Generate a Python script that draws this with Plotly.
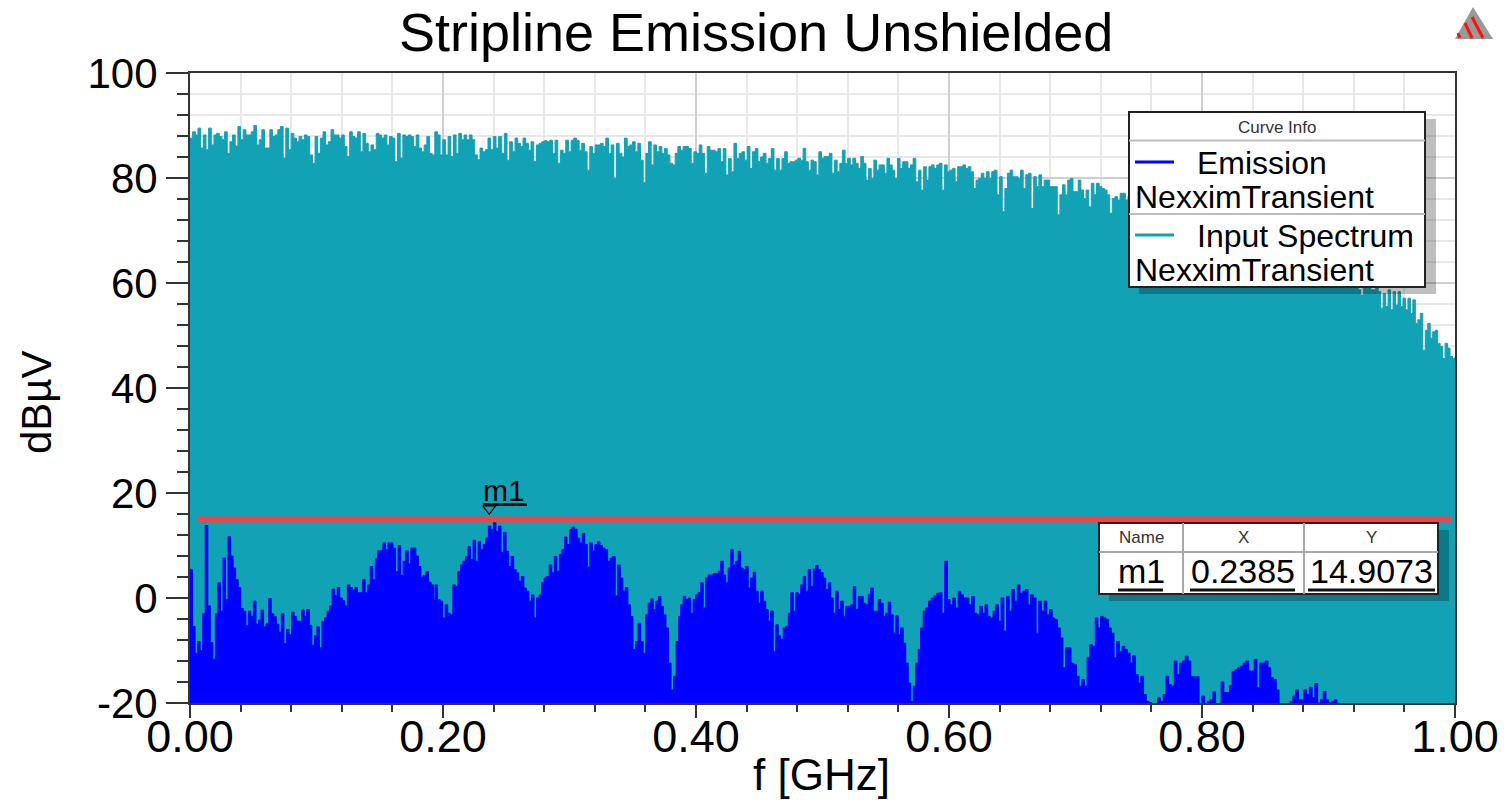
import numpy as np
import plotly.graph_objects as go

# ---------- chart values (dBuV per frequency stretch, GHz) ----------
input_a_range = (0.0, 0.244)
input_a = [87.6,88.8,88.2,89.5,85.7,88.2,85.4,89.5,86.3,88.2,88.5,87.9,87.3,88.8,84.7,86.9,88.2,86.1,89.8,87.3,89.2,88.2,88.2,88.8,90,86.3,87.3,89.2,85.7,85.7,89.2,87.9,88.2,89.2,89.8,83.8,89.5,85.4,88.5,87.6,86.9,87.9,87.3,88.2,87.9,84.4,82.8,87.9,84.7,87.6,88.8,86.3,86.9,89.2,88.2,88.2,87.6,88.2,86,84.1,88.8,87.9,87.6,88.8,85,88.5,86.6,85,86.3,85.4,88.5,88.2,87.6,88.2,86.3,87.9,87.6,83.1,88.5,83.8,88.2,87.9,88.2,87.9,86,88.2,85.7,85,86.3,87.9,84.7,84.4,88.8,88.2,84.4,87.3,84.4,87.9,84.1,88.2,84.7,88.5,87.3,88.2,87.3,88.2,87.3,84.4,83.5,85.7,85,85.4,87.6,85.4,87.9,85.7,87.9]
input_b_range = (0.2464, 0.4743)
input_b = [84.7,88.5,83.4,86.9,85,87.6,86.6,86,87.6,86.6,85.3,86.9,83.1,86.3,86.6,86.9,87.1,86.9,87.2,84.7,87.2,82.8,85.3,84.7,87.2,85,87.2,87.6,87.2,85.3,86.6,85,81.5,86,84.7,86.3,86.3,86.6,86,87.6,84.7,86.3,79.9,86.6,84.7,84,87.6,86,86.3,86.9,85,86.6,83.4,79.1,84.7,86.9,82.5,86.3,85,86,84.7,85.6,84.4,82.8,82.5,84.7,86,85.3,86,86,85.6,82.8,85,84.7,86.3,84.7,80.9,86,85.3,85.3,85,85.6,83.1,85.6,80.6,83.7,81.2,86.6,83.7,84.7,85,83.4,86,81.8,85,85.6,83.1,84,84.7,82.8,83.7,85.6,81.5,83.7,81.5,83.7,85,82.8,83.1]
input_c_range = (0.4764, 0.7415)
input_c = [83.1,83.4,83.75,83.4,85.65,83.1,81.5,83.4,83.1,80.6,85,83.75,84.1,84.1,84.7,80.9,83.4,81.2,82.8,85.3,82.8,83.75,82.5,83.75,82.8,81.8,84.1,82.8,79.6,81.8,79.9,83.4,81.5,82.5,82.5,80.9,83.75,82.5,81.5,79.9,83.75,81.8,83.1,83.1,81.8,82.5,83.75,79.3,81.5,77.7,82.15,79.6,82.15,82.5,81.8,82.5,82.8,77.7,82.5,81.2,81.5,81.8,79.3,82.15,82.15,82.5,81.8,82.15,81.2,78,79.6,79.9,80.9,79.9,81.2,79.9,81.2,81.5,76.8,80.25,73.6,78,80.9,81.5,80.25,80.25,79.9,81.5,78,80.6,80.9,74.2,80.25,78.35,80.6,78.35,79.6,79.6,78.35,78.35,78.35,73,76.8,78.7,76.8,79.6,79.9,77.4,77.4,79.6,77.7,76.1,77.7,74.5,79,76.8,79,78.35,78,77.7,76.8,73.3,76.1,76.45,75.8,77.1,77.1,75.8,76.45]
input_hidden_range = (0.745, 0.92)
input_hidden = [76,75.5,75,74.5,74,73.5,72.5,72,71.5,70.5,70,69,68,67,66,65,63.5,62,60.5]
input_e_range = (0.9236, 1.0)
input_e = [58.7,57.7,59.3,59,60,58.7,58.7,59.3,58.35,55.2,58,55.5,58.7,54.9,58.35,55.8,58.35,55.5,57.1,54.9,57.1,54.2,56.8,52.3,53,54.2,47.2,51,52.3,49.5,50.7,51,48.5,47.9,45.6,48.5,47.6,46,45.6,46]

emission_a_range = (0.0, 0.1926)
emission_a = [5.4,-5.4,-10.5,-8.3,-10,-3,13.8,-1.5,-8.5,-11.7,-3,2.9,-2.5,7.6,-0.3,11.7,8,5.7,3.5,2,-2,-2.5,-5.3,-2.5,-3.5,-0.6,-5,-4.2,-2.3,-5.5,-4.9,-0.1,-3,-3.5,-5,-6.5,-3,-8.7,-6,-7,-2.7,-3.5,-4.4,-4.5,-2.3,-3.5,-2.2,-5.2,-9,-7.2,-5.5,-9.5,-4.5,-3.8,-2.5,-1.5,1.7,0.5,2,0,-0.5,-1.5,2.5,2,1.5,2,1,1,3.5,1,2.5,6,3.5,7.5,9,9,10.5,9.2,10.5,10.5,9.5,5,10,4.3,7,9,6.5,9.5,9.5,8,6,4,4.3,5,3,2.5,-0.5]
emission_b_range = (0.1937, 0.3863)
emission_b = [2.5,-0.3,-0.6,-3.8,-1.3,-2.9,-3.2,2.5,2.2,5,6.3,7,7.9,9.8,7.3,11,7,10.7,9.2,10.2,11.4,13.7,13,14.4,12.7,13.7,8.7,12.5,8.9,6,7.9,5.4,4.8,3.2,4.1,1.9,1.3,-0.6,0.6,-3.8,0,0.6,2.9,3.8,4.1,6.3,4.8,7.9,5.1,8.3,9.2,11.6,10.2,13,13.5,13.1,11.4,10.5,12.3,10.2,5.9,10.5,8.9,10.2,10.7,10,9.5,9.2,7,7.6,7.9,0.4,6.3,3.8,1.3,2,-1.3,-3.5,-9.8,-8.3,-4.8,-8.3,-10.5,-3.2,-1,-0.2,-2.2,-0.6,0.3,-1.6,-3.2,-5.7,-12.4,-17.5,-14.9,-8.3,-3.5]
emission_c_range = (0.3879, 0.5757)
emission_c = [-1.3,0.3,-0.3,0,-2.9,-0.3,0.6,1,2.9,-1.9,3.8,4.4,4.4,4.6,4.6,5.1,7,4.4,2.9,5.7,9.2,6.3,7,8.9,5.7,5.4,6,1.9,3.8,4.9,1.3,-1,1.3,-0.6,-2.2,-4.4,-2.5,-10.2,-5.1,-7.2,-7.9,-5.7,-5.4,-2.9,1,-2.5,1,0.7,2.5,4.1,1.3,5.4,2.2,5.5,6.2,5.4,4.8,3.8,1.6,2.9,0,-2.9,1.3,-2.2,-0.6,-3.5,-1.6,-1.6,-1.3,2.2,-2.2,0.3,0.3,-1,-1.3,0.6,1.9,-2.5,-2.5,-0.3,-1,-3.5,-2.9,-0.8,-3.2,-6.7,-3.4,-7,-5.7,-8.6,-12.4,-16.2,-19.7,-16.8,-12.4,-9.8]
emission_d_range = (0.5775, 0.7602)
emission_d = [-5.7,-2.5,-1.9,-0.6,0,0.4,0.9,1,-2.9,7,-0.3,-1.3,0,-1.9,1.3,0.6,0,0,-1.3,0.3,-2.9,-3.2,-1.6,-2.9,-1.3,-3.5,-3.8,-2.5,-1.3,-4.4,0,-6.3,0.3,-2.5,1.6,-0.6,2.5,0.9,1.3,1.6,-1.3,0.6,0,-6.7,-0.6,-2.5,-0.6,-3.2,-2.2,-3.8,-4.1,-5.7,-7.6,-13.3,-9.5,-9.5,-12.4,-12.7,-14.9,-16.8,-15.5,-16.8,-11.4,-8.9,-9.2,-3.8,-5.7,-3.5,-3.8,-4.1,-5.7,-6.7,-11.4,-8.3,-10.2,-9.2,-9.8,-10.5,-12.4,-11,-14.6,-16.2,-14.9,-18.4,-19.7,-19.9,-20.1]
emission_e_range = (0.7628, 0.9067)
emission_e = [-20.6,-19,-19.7,-18.4,-14.9,-16.5,-16.8,-12,-14.6,-12.4,-12,-11.1,-12,-15,-15,-15,-21,-18.7,-21,-19.7,-19.4,-17.9,-21,-21,-16,-18,-18,-16.7,-14,-13.7,-13.3,-13,-12.4,-12,-13.9,-13.9,-11.7,-17.1,-12.4,-12.4,-12,-13.3,-15.2,-15.5,-17.5,-21,-21,-21,-21,-19.7,-18.7,-17.5,-19.4,-19.4,-17.5,-18.4,-17,-19,-16.3,-20,-19.4,-17.8,-19.4,-20,-19.7,-19.4,-21]

limit_x = [0.0063, 0.9976]
limit_y = [15.0, 15.0]
m1_x_drawn = 0.2365
m1_y_drawn = 17.0
table_head = ["Name", "X", "Y"]
table_row = ["m1", "0.2385", "14.9073"]
title_text = "Stripline Emission Unshielded"
y_ticks = [-20, 0, 20, 40, 60, 80, 100]
y_labels = ["-20", "0", "20", "40", "60", "80", "100"]
x_ticks = [0.0, 0.2, 0.4, 0.6, 0.8, 1.0]
x_labels = ["0.00", "0.20", "0.40", "0.60", "0.80", "1.00"]

TEAL = "#12A2B6"
BLUE = "#0000FF"
RED = "#E5484D"
FONT = "Liberation Sans"
FLOOR = -40


def spread(rng, vals):
    return list(np.linspace(rng[0], rng[1], len(vals)))


input_x = (spread(input_a_range, input_a) + spread(input_b_range, input_b) + spread(input_c_range, input_c)
           + spread(input_hidden_range, input_hidden) + spread(input_e_range, input_e))
input_y = input_a + input_b + input_c + input_hidden + input_e
emission_x = (spread(emission_a_range, emission_a) + spread(emission_b_range, emission_b)
              + spread(emission_c_range, emission_c) + spread(emission_d_range, emission_d)
              + spread(emission_e_range, emission_e))
emission_y = emission_a + emission_b + emission_c + emission_d + emission_e

fig = go.Figure()


def filled(x, y, color, name):
    fig.add_trace(go.Scatter(x=[x[0], x[-1]], y=[FLOOR, FLOOR], mode="lines", line=dict(width=0),
                             showlegend=False, hoverinfo="skip"))
    fig.add_trace(go.Scatter(x=x, y=y, mode="lines", name=name, line=dict(color=color, width=1, shape="hv"),
                             fill="tonexty", fillcolor=color, showlegend=False))


filled(input_x, input_y, TEAL, "Input Spectrum")
filled(emission_x, emission_y, BLUE, "Emission")
fig.add_trace(go.Scatter(x=limit_x, y=limit_y, mode="lines", line=dict(color=RED, width=6), showlegend=False,
                         hoverinfo="skip"))
fig.add_trace(go.Scatter(x=[m1_x_drawn], y=[m1_y_drawn], mode="markers", showlegend=False,
                         marker=dict(symbol="triangle-down-open", size=11, color="black", line=dict(width=1.2, color="black"))))

PL, PR, PT, PB = 190, 1455, 73, 703


def px(v):
    return (v - PL) / (PR - PL)


def py(v):
    return (PB - v) / (PB - PT)


shapes, notes = [], []


def rect(x0, y0, x1, y1, fill, line=None, lw=0):
    shapes.append(dict(type="rect", xref="paper", yref="paper", x0=px(x0), x1=px(x1), y0=py(y0), y1=py(y1),
                       fillcolor=fill, line=dict(color=line or fill, width=lw), layer="above"))


def seg(x0, y0, x1, y1, color, w):
    shapes.append(dict(type="line", xref="paper", yref="paper", x0=px(x0), x1=px(x1), y0=py(y0), y1=py(y1),
                       line=dict(color=color, width=w), layer="above"))


def text(x, y, s, size, color="#000000", xanchor="left", angle=0):
    notes.append(dict(xref="paper", yref="paper", x=px(x), y=py(y), text=s, showarrow=False, xanchor=xanchor,
                      yanchor="middle", textangle=angle, font=dict(family=FONT, size=size, color=color),
                      borderpad=0, borderwidth=0))


SHADOW = "rgba(0,0,0,0.25)"
# curve info box
rect(1139, 119, 1436, 294, SHADOW)
rect(1129, 112, 1425, 287, "white", "#222222", 2)
seg(1129, 140.5, 1425, 140.5, "#BDBDBD", 2)
seg(1129, 214, 1425, 214, "#BDBDBD", 2)
seg(1135, 162, 1174, 162, BLUE, 3)
seg(1135, 235, 1174, 235, TEAL, 3)
text(1277, 127, "Curve Info", 17, "#333333", "center")
text(1197, 163, "Emission", 32)
text(1135, 197, "NexximTransient", 32)
text(1197, 236, "Input Spectrum", 32)
text(1135, 270, "NexximTransient", 32)

# marker table
rect(1109, 530, 1449, 601, SHADOW)
rect(1099, 523, 1438, 594, "white", "#222222", 2)
seg(1099, 552, 1438, 552, "#A8A8A8", 2)
seg(1183, 523, 1183, 594, "#A8A8A8", 2)
seg(1304, 523, 1304, 594, "#A8A8A8", 2)
for cx, h, v, (u0, u1) in zip([1141, 1243, 1371], table_head, table_row,
                              [(1118, 1163), (1190, 1295), (1308, 1435)]):
    text(cx, 537, h, 17, "#333333", "center")
    text(cx, 571, v, 34, "#000000", "center")
    seg(u0, 590, u1, 590, "#111111", 3)

# m1 flag
text(483, 490, "m1", 30)
seg(483, 504.5, 527, 504.5, "#111111", 3)

# small logo at the top right
shapes.append(dict(type="path", xref="paper", yref="paper", layer="above", fillcolor="#999999", line=dict(width=0),
                   path=f"M {px(1473)} {py(7)} L {px(1493)} {py(39)} L {px(1455)} {py(39)} Z"))
for a, b, c, d in [(1458, 33, 1460, 38), (1465, 23, 1472, 38), (1472, 17, 1483, 38)]:
    seg(a, b, c, d, "#FF1010", 3)

text(756, 32, title_text, 54, "#000000", "center")
text(37, 402, "dBµV", 42, "#000000", "center", -90)
text(821, 774, "f [GHz]", 44, "#000000", "center")

GRID = "#E8E8E8"
GRID_MAJOR = "#CFCFCF"
AX = "#333333"
fig.update_layout(
    width=1505, height=800, margin=dict(l=PL, r=1505 - PR, t=PT, b=800 - PB, pad=0),
    paper_bgcolor="white", plot_bgcolor="white", showlegend=False,
    font=dict(family=FONT, color="#000000"), shapes=shapes, annotations=notes,
    xaxis=dict(range=[0, 1], tickvals=x_ticks, ticktext=x_labels, ticks="outside", ticklen=13, tickwidth=2, tickcolor=AX,
               showgrid=True, gridcolor=GRID_MAJOR, gridwidth=2, zeroline=False, showline=True, linecolor=AX,
               linewidth=2, mirror=True, layer="below traces", automargin=False, ticklabelstandoff=-20,
               tickfont=dict(family=FONT, size=45, color="#000000"),
               minor=dict(dtick=0.04, tick0=0, ticks="outside", ticklen=7, tickwidth=2, tickcolor=AX,
                          showgrid=True, gridcolor=GRID, gridwidth=2)),
    yaxis=dict(range=[-20, 100], tickvals=y_ticks, ticktext=y_labels, ticks="outside", ticklen=22, tickwidth=2, tickcolor=AX,
               showgrid=True, gridcolor=GRID_MAJOR, gridwidth=2, zeroline=False, showline=True, linecolor=AX,
               linewidth=2, mirror=True, layer="below traces", automargin=False,
               tickfont=dict(family=FONT, size=42, color="#000000"),
               minor=dict(dtick=4, tick0=0, ticks="outside", ticklen=11, tickwidth=2, tickcolor=AX,
                          showgrid=True, gridcolor=GRID, gridwidth=2)),
)

fig.write_html("out.html", config=dict(displayModeBar=False),
               post_script="document.body.style.margin='0';document.body.style.overflow='hidden';")
